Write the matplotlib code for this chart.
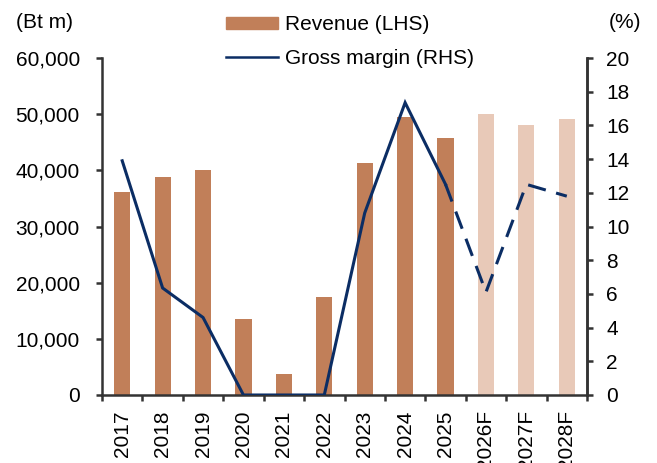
import matplotlib
matplotlib.use("Agg")
import matplotlib.pyplot as plt
import numpy as np
from matplotlib.patches import Patch
from matplotlib.lines import Line2D

plt.rcParams['font.family'] = ['Liberation Sans', 'DejaVu Sans']

years = ["2017", "2018", "2019", "2020", "2021", "2022", "2023", "2024", "2025", "2026F", "2027F", "2028F"]
revenue = [36100, 38800, 40100, 13600, 3700, 17500, 41300, 49500, 45700, 50100, 48100, 49200]
gross_margin = [13.9, 6.35, 4.6, 0.0, 0.0, 0.0, 10.8, 17.35, 12.5, 6.1, 12.5, 11.8]
n_actual = 9

bar_col = "#C17F59"
fc_col = "#E8C9B8"
line_col = "#0B2D64"
spine_col = "#333333"
fs = 15

fig = plt.figure(figsize=(6.57, 4.63), dpi=100)
ax = fig.add_axes([102/657, 1-395/463, (587-102)/657, (395-58)/463])
x = np.arange(len(years))
cols = [bar_col]*n_actual + [fc_col]*(len(years)-n_actual)
ax.bar(x, revenue, width=0.4, color=cols, zorder=2)
ax.set_xlim(-0.5, len(years)-0.5)
ax.set_ylim(0, 60000)
ax.set_yticks(np.arange(0, 60001, 10000))
ax.set_yticklabels([f"{v:,}" for v in range(0, 60001, 10000)], fontsize=fs)
ax.set_xticks(np.arange(-0.5, len(years), 1.0))
ax.set_xticklabels([])
ax.set_xticks(x, minor=True)
ax.set_xticklabels(years, minor=True, rotation=90, fontsize=fs)
ax.tick_params(axis='x', which='minor', length=0, pad=11)
ax.tick_params(axis='x', which='major', length=4, width=1.8, color=spine_col, direction='out')
ax.tick_params(axis='y', length=4, width=1.8, color=spine_col, direction='out', pad=12)
ax.spines['top'].set_visible(False)
for s in ['left', 'bottom', 'right']:
    ax.spines[s].set_color(spine_col)
    ax.spines[s].set_linewidth(1.8)

ax2 = ax.twinx()
ax2.set_ylim(0, 20)
ax2.set_yticks(np.arange(0, 21, 2))
ax2.set_yticklabels([str(v) for v in range(0, 21, 2)], fontsize=fs)
ax2.tick_params(axis='y', length=4, width=1.8, color=spine_col, direction='out', pad=10)
ax2.spines['top'].set_visible(False)
ax2.spines['right'].set_color(spine_col)
ax2.spines['right'].set_linewidth(1.8)
ax2.spines['left'].set_visible(False)
ax2.spines['bottom'].set_visible(False)

ax2.plot(x[:n_actual], gross_margin[:n_actual], color=line_col, lw=2.2, zorder=3, solid_joinstyle='miter')
ax2.plot(x[n_actual-1:], gross_margin[n_actual-1:], color=line_col, lw=2.2, dashes=(6, 3.5), zorder=3)

fig.text(16/657, 1-22/463, "(Bt m)", fontsize=fs, va='center', ha='left')
fig.text(641/657, 1-22/463, "(%)", fontsize=fs, va='center', ha='right')

handles = [Patch(color=bar_col), Line2D([0], [0], color=line_col, lw=1.8)]
leg = fig.legend(handles, ["Revenue (LHS)", "Gross margin (RHS)"], loc='upper left',
                 bbox_to_anchor=(218/657, 1-7/463), frameon=False, fontsize=fs,
                 handlelength=2.5, handleheight=0.5, handletextpad=0.3, labelspacing=0.7,
                 borderaxespad=0)

fig.savefig("out.png", dpi=100)
